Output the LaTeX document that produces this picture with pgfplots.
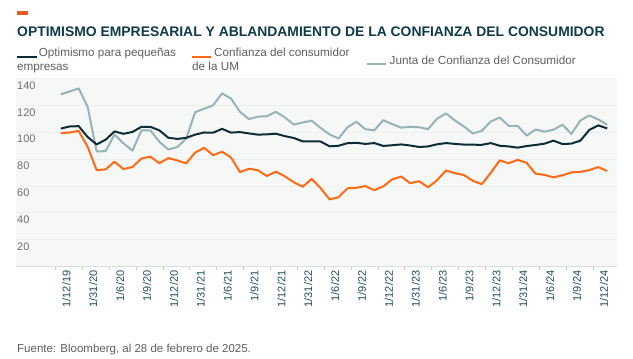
\documentclass[border=0pt]{standalone}
\usepackage{pgfplots}
\pgfplotsset{compat=1.18}
\usepackage{pgfplotstable}
\usepackage{fontspec}
\setmainfont{Liberation Sans}
\definecolor{panel}{HTML}{F6F8F8}
\definecolor{gridc}{HTML}{ECEFEF}
\definecolor{axisc}{HTML}{DCDEDE}
\definecolor{tickc}{HTML}{C8CACA}
\definecolor{titlec}{HTML}{0F3B4A}
\definecolor{darkl}{HTML}{0C2D38}
\definecolor{orangel}{HTML}{FF6A13}
\definecolor{grayl}{HTML}{96B4B4}
\definecolor{txtgray}{HTML}{5E5E5E}
\definecolor{ylab}{HTML}{707070}
\definecolor{xlab}{HTML}{1F4E5C}
\definecolor{marker}{HTML}{F05A28}

\pgfplotstableread{
i nfib umich cb
0 102.7 99.3 128.2
1 104.3 99.8 130.4
2 104.5 101.0 132.6
3 96.4 89.1 118.8
4 90.9 71.8 85.7
5 94.4 72.3 85.9
6 100.6 78.1 98.3
7 98.8 72.5 91.7
8 100.2 74.1 86.3
9 104.0 80.4 101.3
10 104.0 81.8 101.4
11 101.4 76.9 92.9
12 95.9 80.7 87.1
13 95.0 79.0 88.9
14 95.8 76.8 95.2
15 98.2 84.9 114.9
16 99.8 88.3 117.5
17 99.6 82.9 120.0
18 102.5 85.5 128.9
19 99.7 81.2 125.1
20 100.1 70.3 115.2
21 99.1 72.8 109.8
22 98.2 71.7 111.6
23 98.4 67.4 111.9
24 98.9 70.6 115.2
25 97.1 67.2 111.1
26 95.7 62.8 105.7
27 93.2 59.4 107.2
28 93.2 65.2 108.6
29 93.1 58.4 103.2
30 89.5 50.0 98.4
31 89.9 51.5 95.3
32 91.8 58.2 103.6
33 92.1 58.6 107.8
34 91.3 59.9 102.2
35 91.9 56.8 101.4
36 89.8 59.7 109.0
37 90.3 64.9 106.0
38 90.9 67.0 103.4
39 90.1 62.0 104.0
40 89.0 63.5 103.7
41 89.4 59.0 102.3
42 91.0 64.2 110.1
43 91.9 71.5 114.0
44 91.3 69.5 108.7
45 90.8 68.1 104.3
46 90.7 63.8 99.1
47 90.6 61.3 101.0
48 91.9 69.7 108.0
49 89.9 79.0 110.9
50 89.4 76.9 104.8
51 88.5 79.4 104.7
52 89.7 77.2 97.5
53 90.5 69.1 102.0
54 91.5 68.2 100.4
55 93.7 66.4 101.9
56 91.2 67.9 105.6
57 91.5 70.1 98.7
58 93.7 70.5 108.7
59 101.7 71.8 112.5
60 105.1 74.0 109.5
61 102.8 71.1 105.5
}\datatable

\begin{document}
\begin{tikzpicture}[x=1pt,y=1pt]
\begin{scope}[shift={(16pt,92.5pt)}]
\begin{axis}[
  at={(0pt,0pt)}, anchor=south west,
  width=601pt, height=188pt, scale only axis,
  xmin=-5, xmax=62.09, ymin=0, ymax=140,
  axis background/.style={fill=panel},
  axis line style={draw=none},
  ymajorgrids, grid style={draw=gridc, line width=0.8pt},
  ytick={20,40,60,80,100,120,140},
  ytick style={draw=none},
  xtick={-0.6,2.4,5.4,8.4,11.4,14.4,17.4,20.4,23.4,26.4,29.4,32.4,35.4,38.4,41.4,44.4,47.4,50.4,53.4,56.4,59.4},
  xticklabels={1/12/19,1/31/20,1/6/20,1/9/20,1/12/20,1/31/21,1/6/21,1/9/21,1/12/21,1/31/22,1/6/22,1/9/22,1/12/22,1/31/23,1/6/23,1/9/23,1/12/23,1/31/24,1/6/24,1/9/24,1/12/24},
  xtick pos=bottom, xtick align=outside, major tick length=4pt,
  xtick style={draw=tickc, line width=0.8pt},
  /pgf/number format/assume math mode=true,
  yticklabel style={anchor=west, inner sep=1pt, yshift=-7pt, text=ylab, font=\fontsize{11}{13}\selectfont},
  xticklabel style={rotate=90, anchor=east, inner sep=0pt, yshift=-11pt, text=xlab, font=\fontsize{11}{13}\selectfont},
  after end axis/.code={\draw[axisc, line width=0.8pt] (rel axis cs:0,0) -- (rel axis cs:1,0);},
  clip=false,
]
\addplot[grayl, line width=2pt, line join=round] table[x=i, y=cb] {\datatable};
\addplot[orangel, line width=2pt, line join=round] table[x=i, y=umich] {\datatable};
\addplot[darkl, line width=2pt, line join=round] table[x=i, y=nfib] {\datatable};
\end{axis}
\end{scope}
% header
\fill[marker] (17,{359-15.3}) rectangle (27.6,{359-11.2});
\node[anchor=base west, inner sep=0, text=titlec, font=\fontsize{13.9}{16}\selectfont\bfseries] at (17,{359-36.7}) {OPTIMISMO EMPRESARIAL Y ABLANDAMIENTO DE LA CONFIANZA DEL CONSUMIDOR};
% legend
\begin{scope}[every node/.style={anchor=base west, inner sep=0, text=txtgray, font=\fontsize{11.7}{14}\selectfont}]
\draw[darkl, line width=2pt] (17,{359-57.3}) -- (36.5,{359-57.3});
\node at (38.6,{359-57}) {Optimismo para pequeñas};
\node at (17,{359-70.5}) {empresas};
\draw[orangel, line width=2pt] (192,{359-57.3}) -- (211,{359-57.3});
\node at (214,{359-57}) {Confianza del consumidor};
\node at (192,{359-70.5}) {de la UM};
\draw[grayl, line width=2pt] (367,{359-64.3}) -- (386,{359-64.3});
\node at (389.5,{359-64.5}) {Junta de Confianza del Consumidor};
\end{scope}
\node[anchor=base west, inner sep=0, text=txtgray, font=\fontsize{11.5}{14}\selectfont] at (17,{359-352.5}) {Fuente: Bloomberg, al 28 de febrero de 2025.};
\pgfresetboundingbox
\path[use as bounding box] (0,0) rectangle (633,359);
\end{tikzpicture}
\end{document}
